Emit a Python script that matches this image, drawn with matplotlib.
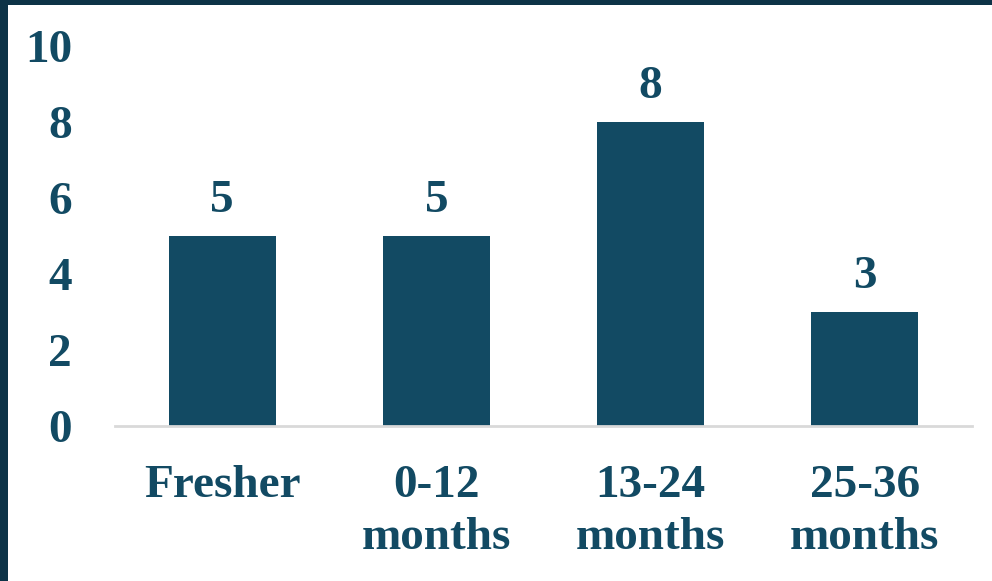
import matplotlib
matplotlib.use("Agg")
import matplotlib.patheffects as pe
from matplotlib import pyplot as plt
from matplotlib.patches import Rectangle

categories = ["Fresher", "0-12\nmonths", "13-24\nmonths", "25-36\nmonths"]
counts = [5, 5, 8, 3]
y_ticks = [0, 2, 4, 6, 8, 10]

bar_color = "#124a63"
text_color = "#124a63"
border_color = "#0d3347"
font = "Liberation Serif"
fs = 34

fig = plt.figure(figsize=(9.92, 5.81), dpi=100)
fig.patch.set_facecolor("white")

# dark frame on the left and top edges
fig.patches.append(Rectangle((0, 0), 8 / 992, 1, transform=fig.transFigure,
                             facecolor=border_color, edgecolor="none", zorder=10))
fig.patches.append(Rectangle((0, 1 - 5 / 581), 1, 5 / 581, transform=fig.transFigure,
                             facecolor=border_color, edgecolor="none", zorder=10))

ax = fig.add_axes([115 / 992, 1 - 426 / 581, (972 - 115) / 992, (426 - 46) / 581])
x = range(len(categories))
bars = ax.bar(x, counts, width=0.5, color=bar_color, zorder=3,
              path_effects=[pe.SimplePatchShadow(offset=(0, -1.5), shadow_rgbFace="#9a9a9a", alpha=0.5),
                            pe.Normal()])

for xi, v in zip(x, counts):
    ax.annotate(str(v), (xi, v), xytext=(0, 10), textcoords="offset points",
                ha="center", va="bottom", fontsize=fs, fontweight="bold",
                family=font, color=text_color)

ax.set_xlim(-0.5, len(categories) - 0.5)
ax.set_ylim(0, 10)
ax.set_yticks(y_ticks)
ax.set_yticklabels([str(t) for t in y_ticks], fontsize=fs, fontweight="bold",
                   family=font, color=text_color)
ax.set_xticks(list(x))
ax.set_xticklabels(categories, fontsize=fs, fontweight="bold", family=font,
                   color=text_color, linespacing=1.32)
ax.tick_params(axis="both", length=0)
ax.tick_params(axis="y", pad=31)
ax.tick_params(axis="x", pad=28)

for s in ["top", "right", "left"]:
    ax.spines[s].set_visible(False)
ax.spines["bottom"].set_color("#d9d9d9")
ax.spines["bottom"].set_linewidth(2)
ax.spines["bottom"].set_zorder(4)

fig.savefig("out.png", dpi=100)
